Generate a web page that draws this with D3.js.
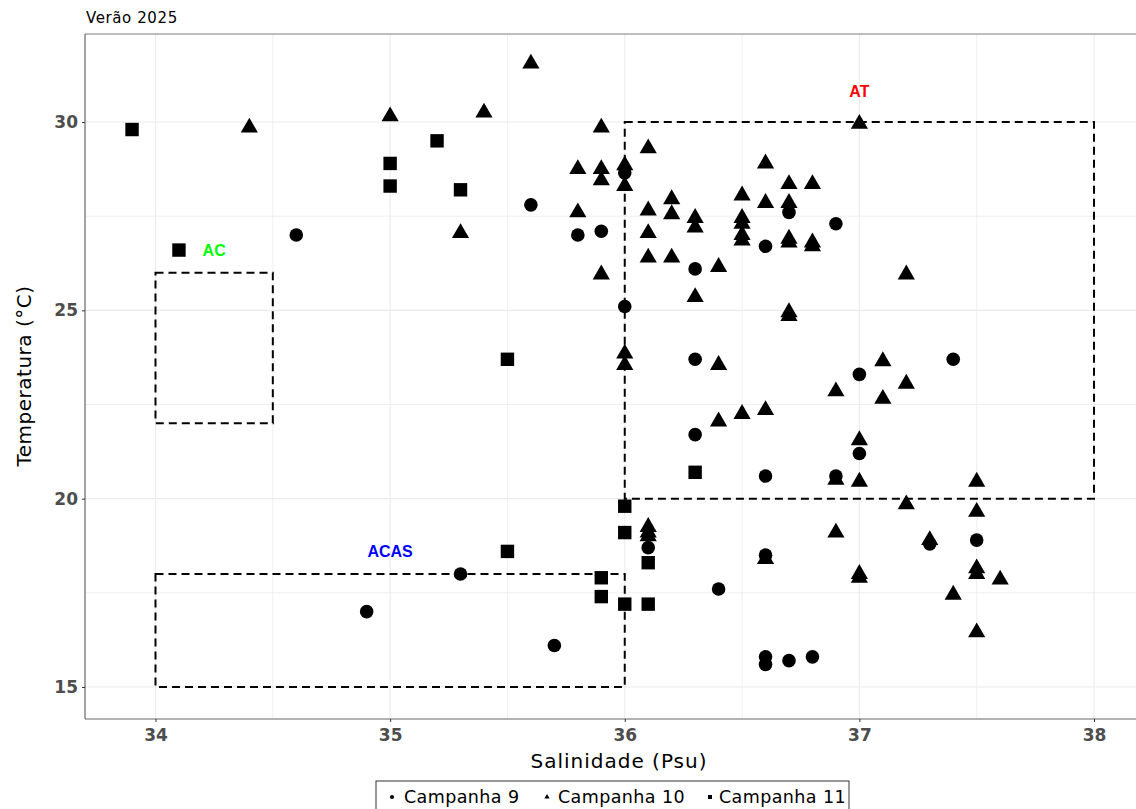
<!DOCTYPE html>
<html>
<head>
<meta charset="utf-8">
<script src="https://cdn.jsdelivr.net/npm/d3@7"></script>
<style>
  body { margin: 0; background: #fff; }
  svg { display: block; }
</style>
</head>
<body>
<script>
// Campanha 9 (circulos)
const sal9 = [34.6, 34.9, 35.3, 35.6, 35.7, 35.8, 35.9, 36.0, 36.0, 36.1, 36.3, 36.3, 36.3, 36.4, 36.6, 36.6, 36.6, 36.6, 36.6, 36.7, 36.7, 36.8, 36.9, 36.9, 37.0, 37.0, 37.3, 37.4, 37.5]
const temp9 = [27.0, 17.0, 18.0, 27.8, 16.1, 27.0, 27.1, 28.65, 25.1, 18.7, 26.1, 23.7, 21.7, 17.6, 26.7, 20.6, 18.5, 15.8, 15.6, 27.6, 15.7, 15.8, 27.3, 20.6, 23.3, 21.2, 18.8, 23.7, 18.9]

// Campanha 10 (triangulos)
const sal10 = [34.4, 35.0, 35.3, 35.4, 35.6, 35.8, 35.8, 35.9, 35.9, 35.9, 35.9, 36.0, 36.0, 36.0, 36.0,
  36.1, 36.1, 36.1, 36.1, 36.1, 36.1, 36.1, 36.2, 36.2, 36.2, 36.3, 36.3, 36.3, 36.4, 36.4, 36.4,
  36.5, 36.5, 36.5, 36.5, 36.5, 36.5, 36.6, 36.6, 36.6, 36.6, 36.7, 36.7, 36.7, 36.7, 36.7, 36.7,
  36.8, 36.8, 36.8, 36.9, 36.9, 36.9, 37.0, 37.0, 37.0, 37.0, 37.0, 37.1, 37.1, 37.2, 37.2, 37.2,
  37.3, 37.4, 37.5, 37.5, 37.5, 37.5, 37.5, 37.6]
const temp10 = [29.85, 30.15, 27.05, 30.25, 31.55, 28.75, 27.6, 29.85, 28.75, 28.45, 25.95, 28.85, 28.3, 23.85, 23.55,
  29.3, 27.65, 27.05, 26.4, 19.25, 19.1, 19.0, 27.95, 27.55, 26.4, 27.45, 27.2, 25.35, 26.15, 23.55, 22.05,
  28.05, 27.45, 27.3, 27.0, 26.85, 22.25, 28.9, 27.85, 22.35, 18.4, 28.35, 27.85, 26.9, 26.8, 24.95, 24.85,
  28.35, 26.8, 26.7, 22.85, 20.5, 19.1, 29.95, 21.55, 20.45, 18.0, 17.9, 23.65, 22.65, 25.95, 23.05, 19.85,
  18.9, 17.45, 20.45, 19.65, 18.15, 18.0, 16.45, 17.85]

// Campanha 11 (quadrados)
const sal11 = [33.9, 34.1, 35.0, 35.0, 35.2, 35.3, 35.5, 35.5, 35.9, 35.9, 36.0, 36.0, 36.0, 36.1, 36.1, 36.3]
const temp11 = [29.8, 26.6, 28.9, 28.3, 29.5, 28.2, 23.7, 18.6, 17.9, 17.4, 19.8, 19.1, 17.2, 18.3, 17.2, 20.7]

// massas de agua
const massas = ['AC', 'ACAS', 'AT']
const salMin = [34, 34, 36]
const salMax = [34.5, 36, 38]
const tMin = [22, 15, 20]
const tMax = [26, 18, 30]
const rotuloSal = [34.25, 35.0, 37.0]
const rotuloT = [26.6, 18.6, 30.8]
const coresMassa = ['#00ff00', '#0000ff', '#ff0000']

const campanhas = ['Campanha 9', 'Campanha 10', 'Campanha 11']
const xTicks = [34, 35, 36, 37, 38]
const yTicks = [15, 20, 25, 30]

const width = 1136
const height = 809
const pLeft = 85
const pTop = 34
const pBottom = 719
const pRight = 1150
const fontMain = '"DejaVu Sans", "Noto Sans", sans-serif'

const x = d3.scaleLinear().domain([34, 38]).range([155.5, 1094])
const y = d3.scaleLinear().domain([15, 30]).range([687, 122])

const svg = d3.select('body').append('svg')
  .attr('width', width)
  .attr('height', height)

// grade
const grid = svg.append('g')
const xGrid = d3.range(33.5, 38.6, 0.5).filter(v => x(v) > pLeft && x(v) < pRight)
const yGrid = d3.range(12.5, 33, 2.5).filter(v => y(v) > pTop && y(v) < pBottom)
grid.selectAll('line.gx')
  .data(xGrid)
  .enter()
  .append('line')
  .attr('x1', d => x(d)).attr('x2', d => x(d))
  .attr('y1', pTop).attr('y2', pBottom)
  .attr('stroke', '#ebebeb')
  .attr('stroke-width', d => Number.isInteger(d) ? 1.1 : 0.8)
grid.selectAll('line.gy')
  .data(yGrid)
  .enter()
  .append('line')
  .attr('y1', d => y(d)).attr('y2', d => y(d))
  .attr('x1', pLeft).attr('x2', pRight)
  .attr('stroke', '#ebebeb')
  .attr('stroke-width', d => d % 5 === 0 ? 1.1 : 0.8)

// caixas das massas de agua
svg.selectAll('rect.massa')
  .data(massas)
  .enter()
  .append('rect')
  .attr('x', (d, i) => x(salMin[i]))
  .attr('y', (d, i) => y(tMax[i]))
  .attr('width', (d, i) => x(salMax[i]) - x(salMin[i]))
  .attr('height', (d, i) => y(tMin[i]) - y(tMax[i]))
  .attr('fill', 'none')
  .attr('stroke', '#000')
  .attr('stroke-width', 2)
  .attr('stroke-dasharray', '8,5')

svg.selectAll('text.massa')
  .data(massas)
  .enter()
  .append('text')
  .attr('x', (d, i) => x(rotuloSal[i]))
  .attr('y', (d, i) => y(rotuloT[i]))
  .attr('dy', '0.35em')
  .attr('text-anchor', 'middle')
  .attr('font-family', '"Liberation Sans", Arial, sans-serif')
  .attr('font-weight', 'bold')
  .attr('font-size', 16)
  .attr('fill', (d, i) => coresMassa[i])
  .text(d => d)

// pontos
const pts = svg.append('g')
const circulo = d3.symbol().type(d3.symbolCircle).size(145)
const triangulo = d3.symbol().type(d3.symbolTriangle).size(128)
const quadrado = d3.symbol().type(d3.symbolSquare).size(180)

pts.selectAll('path.c9')
  .data(sal9)
  .enter()
  .append('path')
  .attr('d', circulo)
  .attr('transform', (d, i) => 'translate(' + x(d) + ',' + y(temp9[i]) + ')')
  .attr('fill', '#000')
pts.selectAll('path.c10')
  .data(sal10)
  .enter()
  .append('path')
  .attr('d', triangulo)
  .attr('transform', (d, i) => 'translate(' + x(d) + ',' + y(temp10[i]) + ')')
  .attr('fill', '#000')
pts.selectAll('path.c11')
  .data(sal11)
  .enter()
  .append('path')
  .attr('d', quadrado)
  .attr('transform', (d, i) => 'translate(' + x(d) + ',' + y(temp11[i]) + ')')
  .attr('fill', '#000')

// eixos
svg.append('line')
  .attr('x1', pLeft).attr('x2', pRight)
  .attr('y1', pTop).attr('y2', pTop)
  .attr('stroke', '#7f7f7f').attr('stroke-width', 1.2)
svg.append('line')
  .attr('x1', pLeft).attr('x2', pLeft)
  .attr('y1', pTop).attr('y2', pBottom)
  .attr('stroke', '#666').attr('stroke-width', 1.2)
svg.append('line')
  .attr('x1', pLeft).attr('x2', pRight)
  .attr('y1', pBottom).attr('y2', pBottom)
  .attr('stroke', '#666').attr('stroke-width', 1.2)

const xAxis = svg.append('g')
  .attr('transform', 'translate(0,' + pBottom + ')')
  .call(d3.axisBottom(x).tickValues(xTicks).tickSize(3).tickFormat(d3.format('d')))
xAxis.select('.domain').remove()
xAxis.selectAll('line').attr('stroke', '#333')
xAxis.selectAll('text')
  .attr('font-family', fontMain)
  .attr('font-weight', 'bold')
  .attr('font-size', 17)
  .attr('fill', '#4d4d4d')
  .attr('dy', '0.95em')

const yAxis = svg.append('g')
  .attr('transform', 'translate(' + pLeft + ',0)')
  .call(d3.axisLeft(y).tickValues(yTicks).tickSize(3).tickFormat(d3.format('d')))
yAxis.select('.domain').remove()
yAxis.selectAll('line').attr('stroke', '#333')
yAxis.selectAll('text')
  .attr('font-family', fontMain)
  .attr('font-weight', 'bold')
  .attr('font-size', 17)
  .attr('fill', '#4d4d4d')
  .attr('x', -7)

// titulos
svg.append('text')
  .attr('x', 86).attr('y', 23)
  .attr('font-family', fontMain)
  .attr('font-size', 15)
  .attr('letter-spacing', 0.6)
  .attr('fill', '#000')
  .text('Verão 2025')

svg.append('text')
  .attr('x', 619).attr('y', 768)
  .attr('text-anchor', 'middle')
  .attr('font-family', fontMain)
  .attr('font-size', 20)
  .attr('letter-spacing', 1)
  .attr('fill', '#000')
  .text('Salinidade (Psu)')

svg.append('text')
  .attr('transform', 'translate(31,376) rotate(-90)')
  .attr('text-anchor', 'middle')
  .attr('font-family', fontMain)
  .attr('font-size', 20)
  .attr('letter-spacing', 0.5)
  .attr('fill', '#000')
  .text('Temperatura (°C)')

// legenda
const leg = svg.append('g')
leg.append('rect')
  .attr('x', 376).attr('y', 781)
  .attr('width', 473).attr('height', 40)
  .attr('fill', '#fff')
  .attr('stroke', '#333')
  .attr('stroke-width', 1)

const legKeyX = [392, 547, 710]
const legTextX = [404, 558, 719]
const simbolos = [
  d3.symbol().type(d3.symbolCircle).size(14),
  d3.symbol().type(d3.symbolTriangle).size(12),
  d3.symbol().type(d3.symbolSquare).size(16)
]
leg.selectAll('path')
  .data(campanhas)
  .enter()
  .append('path')
  .attr('d', (d, i) => simbolos[i]())
  .attr('transform', (d, i) => 'translate(' + legKeyX[i] + ',797)')
  .attr('fill', '#000')
leg.selectAll('text')
  .data(campanhas)
  .enter()
  .append('text')
  .attr('x', (d, i) => legTextX[i])
  .attr('y', 797)
  .attr('dy', '0.35em')
  .attr('font-family', fontMain)
  .attr('font-size', 17.5)
  .attr('letter-spacing', 0.4)
  .attr('fill', '#000')
  .text(d => d)
</script>
</body>
</html>
